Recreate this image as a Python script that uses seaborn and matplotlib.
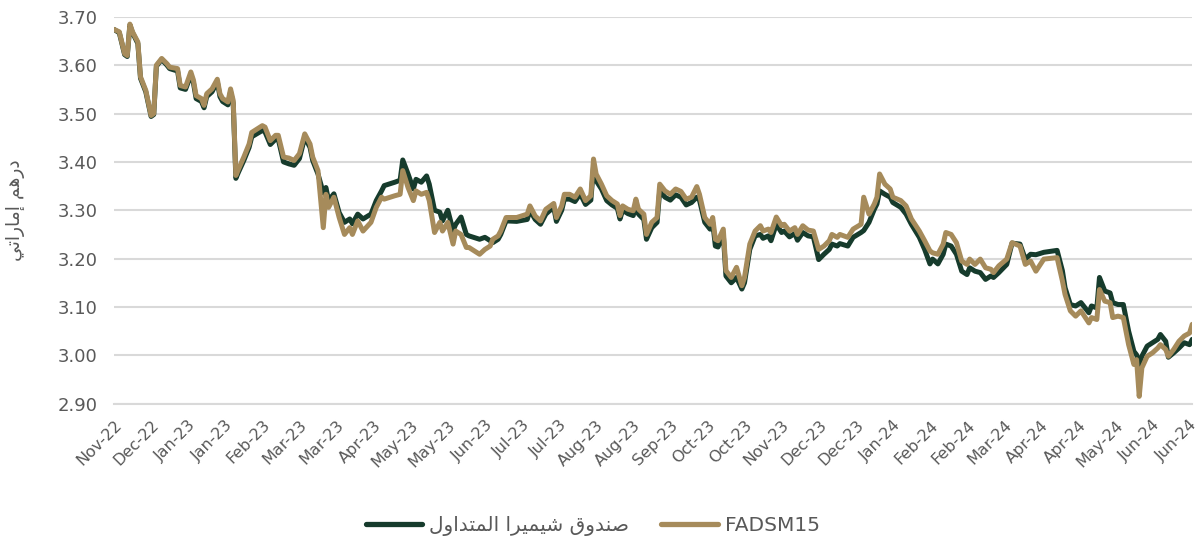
import matplotlib
matplotlib.use("Agg")
import matplotlib.pyplot as plt
import numpy as np
import pandas as pd
import seaborn as sns

# trading-day index (x axis is a category axis, one tick label every 14 sessions)
days = [0, 2, 4, 5, 6, 7, 9, 10, 12, 14, 15, 16, 18, 20, 21, 24, 25, 27, 29, 30,
        31, 33, 34, 35, 37, 39, 40, 41, 43, 44, 45, 46, 47, 49, 51, 52, 56, 57, 59, 61,
        62, 64, 66, 68, 70, 72, 74, 75, 77, 79, 80, 81, 83, 85, 87, 89, 90, 92, 94, 97,
        99, 101, 102, 106, 108, 109, 111, 113, 114, 116, 118, 119, 121, 123, 124, 126, 128, 129, 131, 133,
        134, 138, 140, 142, 143, 145, 146, 148, 152, 156, 157, 159, 161, 163, 164, 166, 167, 169, 170, 172,
        174, 176, 178, 180, 181, 182, 184, 186, 188, 190, 191, 192, 194, 196, 197, 198, 200, 201, 203, 205,
        206, 208, 210, 212, 214, 216, 218, 220, 221, 223, 225, 226, 227, 228, 230, 231, 233, 235, 237, 238,
        240, 242, 244, 245, 247, 248, 250, 252, 253, 255, 257, 258, 260, 262, 264, 266, 268, 270, 271, 273,
        274, 277, 279, 282, 283, 285, 287, 288, 289, 291, 293, 294, 297, 299, 301, 304, 306, 308, 309, 311,
        313, 314, 316, 318, 320, 322, 323, 325, 327, 329, 331, 332, 334, 337, 339, 342, 344, 346, 348, 351,
        356, 358, 359, 361, 363, 365, 368, 369, 371, 372, 374, 376, 377, 379, 381, 383, 385, 386, 387, 388,
        390, 392, 394, 395, 397, 398, 400, 402, 404, 406, 407]

fadsm15 = [3.674, 3.669, 3.624, 3.620, 3.685, 3.669, 3.648, 3.576, 3.548, 3.496, 3.500, 3.600, 3.614, 3.603, 3.596, 3.593, 3.558, 3.555, 3.586, 3.569,
           3.537, 3.531, 3.517, 3.541, 3.551, 3.571, 3.541, 3.531, 3.524, 3.551, 3.527, 3.372, 3.385, 3.410, 3.437, 3.461, 3.475, 3.472, 3.444, 3.455,
           3.455, 3.410, 3.408, 3.403, 3.417, 3.458, 3.437, 3.410, 3.382, 3.264, 3.333, 3.306, 3.327, 3.285, 3.250, 3.264, 3.250, 3.278, 3.257, 3.275,
           3.306, 3.327, 3.323, 3.330, 3.333, 3.382, 3.347, 3.320, 3.340, 3.333, 3.337, 3.320, 3.254, 3.275, 3.257, 3.275, 3.230, 3.257, 3.250, 3.223,
           3.223, 3.209, 3.219, 3.226, 3.240, 3.247, 3.257, 3.285, 3.285, 3.292, 3.309, 3.288, 3.278, 3.302, 3.306, 3.314, 3.285, 3.309, 3.333, 3.333,
           3.327, 3.344, 3.320, 3.330, 3.406, 3.375, 3.354, 3.330, 3.320, 3.313, 3.289, 3.309, 3.302, 3.299, 3.323, 3.302, 3.292, 3.250, 3.275, 3.285,
           3.354, 3.340, 3.333, 3.344, 3.339, 3.323, 3.327, 3.349, 3.333, 3.285, 3.271, 3.285, 3.240, 3.237, 3.261, 3.175, 3.161, 3.182, 3.144, 3.161,
           3.230, 3.257, 3.268, 3.257, 3.261, 3.254, 3.286, 3.268, 3.271, 3.257, 3.264, 3.250, 3.268, 3.259, 3.257, 3.219, 3.226, 3.237, 3.250, 3.244,
           3.250, 3.244, 3.261, 3.271, 3.327, 3.292, 3.313, 3.327, 3.375, 3.354, 3.344, 3.327, 3.320, 3.309, 3.282, 3.257, 3.237, 3.216, 3.212, 3.209,
           3.230, 3.254, 3.250, 3.233, 3.195, 3.188, 3.199, 3.188, 3.199, 3.181, 3.178, 3.171, 3.185, 3.199, 3.233, 3.226, 3.188, 3.195, 3.174, 3.199,
           3.202, 3.154, 3.126, 3.092, 3.081, 3.092, 3.067, 3.078, 3.074, 3.136, 3.112, 3.109, 3.078, 3.081, 3.078, 3.022, 2.981, 2.991, 2.915, 2.974,
           2.998, 3.005, 3.015, 3.022, 3.012, 2.998, 3.012, 3.029, 3.040, 3.046, 3.064]

chimera_etf = [3.674, 3.667, 3.622, 3.618, 3.683, 3.667, 3.645, 3.573, 3.545, 3.494, 3.498, 3.598, 3.612, 3.600, 3.593, 3.588, 3.553, 3.550, 3.580, 3.563,
               3.531, 3.525, 3.512, 3.535, 3.545, 3.566, 3.535, 3.525, 3.518, 3.545, 3.521, 3.366, 3.379, 3.403, 3.430, 3.452, 3.465, 3.462, 3.436, 3.447,
               3.447, 3.400, 3.396, 3.393, 3.407, 3.451, 3.430, 3.403, 3.375, 3.336, 3.347, 3.320, 3.334, 3.295, 3.275, 3.282, 3.272, 3.292, 3.282, 3.292,
               3.320, 3.340, 3.351, 3.358, 3.362, 3.404, 3.375, 3.344, 3.364, 3.358, 3.371, 3.354, 3.300, 3.296, 3.278, 3.300, 3.258, 3.271, 3.286, 3.250,
               3.247, 3.240, 3.244, 3.237, 3.233, 3.240, 3.250, 3.278, 3.277, 3.281, 3.300, 3.281, 3.271, 3.292, 3.297, 3.306, 3.277, 3.300, 3.323, 3.323,
               3.318, 3.334, 3.312, 3.321, 3.389, 3.361, 3.344, 3.320, 3.311, 3.304, 3.282, 3.300, 3.293, 3.289, 3.313, 3.292, 3.281, 3.240, 3.264, 3.275,
               3.340, 3.327, 3.321, 3.332, 3.327, 3.311, 3.316, 3.327, 3.321, 3.275, 3.261, 3.275, 3.226, 3.224, 3.250, 3.164, 3.150, 3.161, 3.137, 3.150,
               3.219, 3.247, 3.250, 3.242, 3.247, 3.237, 3.271, 3.254, 3.257, 3.245, 3.252, 3.238, 3.254, 3.247, 3.245, 3.198, 3.209, 3.219, 3.230, 3.226,
               3.231, 3.226, 3.244, 3.254, 3.258, 3.275, 3.302, 3.313, 3.340, 3.333, 3.327, 3.316, 3.306, 3.292, 3.271, 3.244, 3.219, 3.189, 3.199, 3.189,
               3.209, 3.230, 3.226, 3.209, 3.174, 3.167, 3.181, 3.174, 3.171, 3.157, 3.164, 3.161, 3.171, 3.188, 3.232, 3.230, 3.199, 3.209, 3.208, 3.213,
               3.217, 3.175, 3.140, 3.105, 3.102, 3.109, 3.088, 3.102, 3.098, 3.161, 3.133, 3.129, 3.109, 3.105, 3.105, 3.050, 3.008, 3.001, 2.981, 2.998,
               3.019, 3.026, 3.033, 3.043, 3.029, 2.996, 3.005, 3.015, 3.026, 3.022, 3.033]

tick_labels = ["Nov-22", "Dec-22", "Jan-23", "Jan-23", "Feb-23", "Mar-23", "Mar-23", "Apr-23",
               "May-23", "May-23", "Jun-23", "Jul-23", "Jul-23", "Aug-23", "Aug-23", "Sep-23",
               "Oct-23", "Oct-23", "Nov-23", "Dec-23", "Dec-23", "Jan-24", "Feb-24", "Feb-24",
               "Mar-24", "Apr-24", "Apr-24", "May-24", "Jun-24", "Jun-24"]
tick_step = 14

# Arabic text in presentation forms, visual order (matplotlib has no shaping)
name_fund = "\uFEDD\uFEED\uFE8D\uFEAA\uFE98\uFEE4\uFEDF\uFE8D \uFE8D\uFEAE\uFEF4\uFEE4\uFEF4\uFEB7 \uFED5\uFEED\uFEAA\uFEE8\uFEBB"  # صندوق شيميرا المتداول
name_index = "FADSM15"
y_title = "\uFEF2\uFE97\uFE8D\uFEAD\uFE8E\uFEE3\uFE87 \uFEE2\uFEEB\uFEAD\uFEA9"  # درهم إماراتي

sns.set_theme(style="white")
plt.rcParams["font.family"] = ["DejaVu Sans"]

GREEN = "#163B2C"
TAN = "#A68B5B"
GREY_TXT = "#595959"

df = pd.DataFrame({"day": days, name_fund: chimera_etf, name_index: fadsm15})
long = df.melt(id_vars="day", var_name="series", value_name="price")

fig = plt.figure(figsize=(12, 5.44), dpi=100)
ax = fig.add_axes([0.095, 0.258, 0.8985, 0.711])

sns.lineplot(data=long, x="day", y="price", hue="series",
             hue_order=[name_fund, name_index],
             palette=[GREEN, TAN], linewidth=3.6, ax=ax, legend=False)

ax.set_ylim(2.90, 3.70)
ax.set_yticks(np.arange(2.90, 3.701, 0.10))
ax.set_yticklabels([f"{v:.2f}" for v in np.arange(2.90, 3.701, 0.10)],
                   fontsize=13, color=GREY_TXT)
ax.set_xlim(0, days[-1])
xt = [i * tick_step for i in range(len(tick_labels))]
ax.set_xticks(xt)
ax.set_xticklabels(tick_labels, rotation=45, ha="right", rotation_mode="anchor",
                   fontsize=11.5, color=GREY_TXT)
ax.tick_params(axis="y", length=0, pad=12)
ax.tick_params(axis="x", length=6, width=1.3, color="#d9d9d9", pad=4, direction="out")

ax.grid(axis="y", color="#d9d9d9", linewidth=1.5)
ax.grid(axis="x", visible=False)
for s in ["top", "right", "left"]:
    ax.spines[s].set_visible(False)
ax.spines["bottom"].set_color("#d9d9d9")
ax.spines["bottom"].set_linewidth(1.5)
ax.set_axisbelow(True)

ax.set_xlabel("")
ax.set_ylabel(y_title, fontsize=13.5, color=GREY_TXT)
ax.yaxis.set_label_coords(-0.083, 0.5)

handles = [plt.Line2D([], [], color=GREEN, linewidth=3.8, solid_capstyle="round"),
           plt.Line2D([], [], color=TAN, linewidth=3.8, solid_capstyle="round")]
fig.legend(handles, [name_fund, name_index], loc="lower center",
           bbox_to_anchor=(0.494, -0.018), ncol=2, frameon=False, fontsize=14.5,
           handlelength=2.8, handletextpad=0.35, columnspacing=1.6,
           labelcolor=GREY_TXT)

fig.savefig("out.png", dpi=100)
